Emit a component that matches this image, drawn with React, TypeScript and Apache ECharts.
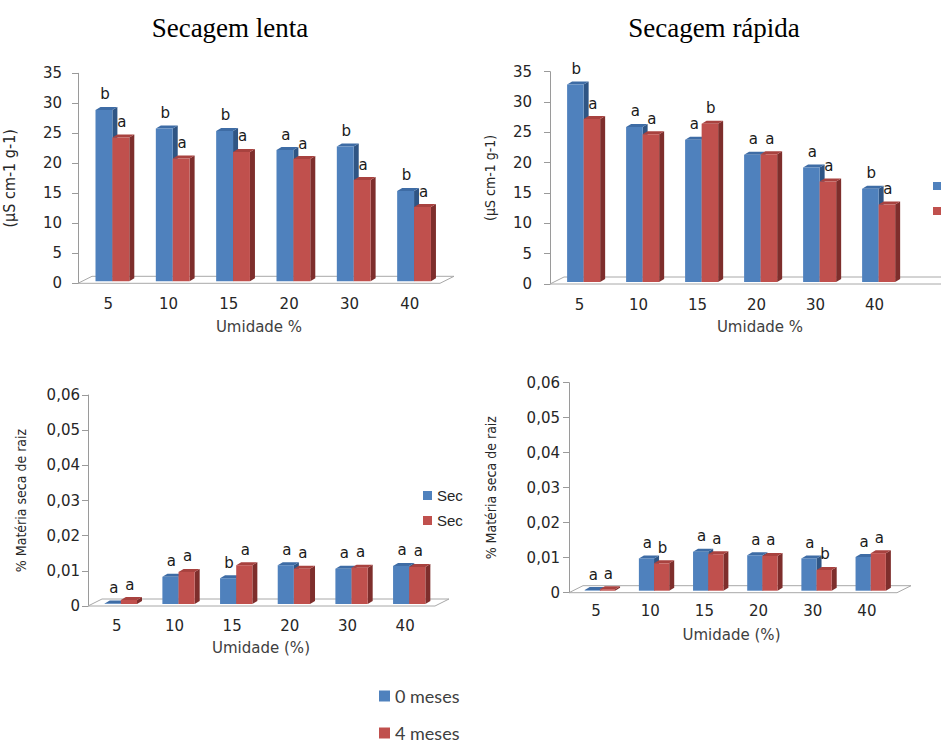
import React, { useEffect, useRef } from "react";
import * as echarts from "echarts";

// Umidade (%) classes shared by every panel
const categories = ["5", "10", "15", "20", "30", "40"];

// Condutividade elétrica (µS cm-1 g-1)
const lentaCond0 = [28.9, 25.8, 25.4, 22.2, 22.8, 15.4];
const lentaCond4 = [24.3, 20.8, 21.9, 20.7, 17.2, 12.7];
const rapidaCond0 = [32.9, 25.9, 23.8, 21.3, 19.2, 15.7];
const rapidaCond4 = [27.2, 24.7, 26.4, 21.4, 16.9, 13.1];

// % Matéria seca de raiz
const lentaRaiz0 = [0.0002, 0.0083, 0.0079, 0.0116, 0.0106, 0.0114];
const lentaRaiz4 = [0.0017, 0.0097, 0.0116, 0.0106, 0.0109, 0.0111];
const rapidaRaiz0 = [0.0003, 0.0098, 0.0117, 0.0107, 0.0098, 0.0102];
const rapidaRaiz4 = [0.001, 0.0084, 0.011, 0.0105, 0.0065, 0.0113];

// Letras de comparação de médias
const lentaCondLet0 = ["b", "b", "b", "a", "b", "b"];
const lentaCondLet4 = ["a", "a", "a", "a", "a", "a"];
const rapidaCondLet0 = ["b", "a", "a", "a", "a", "b"];
const rapidaCondLet4 = ["a", "a", "b", "a", "a", "a"];
const lentaRaizLet0 = ["a", "a", "b", "a", "a", "a"];
const lentaRaizLet4 = ["a", "a", "a", "a", "a", "a"];
const rapidaRaizLet0 = ["a", "a", "a", "a", "a", "a"];
const rapidaRaizLet4 = ["a", "b", "a", "a", "b", "a"];

const seriesNames = ["0 meses", "4 meses"];

const BLUE = { front: "#4F81BD", top: "#3E6CA5", side: "#2F5584" };
const RED = { front: "#C0504D", top: "#A8423F", side: "#7E2E2C" };

const TICK_FONT = "DejaVu Sans";
const NARROW_FONT = "'Liberation Sans Narrow', 'DejaVu Sans Condensed', 'Liberation Sans'";
const AXIS_GRAY = "#9a9a9a";

// bar depth (pseudo 3D)
const DX = 5;
const DY = 3;
// floor depth
const FDX = 14;
const FDY = 7;

function barRender(which: number, letters: string[]) {
  const col = which === 0 ? BLUE : RED;
  const a = which === 0 ? -0.21 : 0.07;
  const b = which === 0 ? 0.07 : 0.35;
  return (params: any, api: any) => {
    const i = api.value(0);
    const v = api.value(1);
    const top = api.coord([i, v]);
    const base = api.coord([i, 0]);
    const band = api.size([1, 0])[0];
    const c = top[0];
    const x0 = c + a * band;
    const x1 = c + b * band;
    const yB = base[1] - 2;
    const yT = Math.min(top[1], yB - 0.6);
    return {
      type: "group",
      children: [
        {
          type: "polygon",
          shape: { points: [[x1, yT], [x1 + DX, yT - DY], [x1 + DX, yB - DY], [x1, yB]] },
          style: { fill: col.side },
        },
        {
          type: "polygon",
          shape: { points: [[x0, yT], [x0 + DX, yT - DY], [x1 + DX, yT - DY], [x1, yT]] },
          style: { fill: col.top },
        },
        {
          type: "rect",
          shape: { x: x0, y: yT, width: x1 - x0, height: yB - yT },
          style: { fill: col.front },
        },
        {
          type: "text",
          x: (x0 + x1) / 2 + 1,
          y: yT - 8,
          style: {
            text: letters[i],
            align: "center",
            verticalAlign: "bottom",
            fill: "#1a1a1a",
            font: `15px ${TICK_FONT}`,
          },
        },
      ],
    };
  };
}

function floorRender(extraRight: number) {
  return (params: any) => {
    const cs = params.coordSys;
    const xl = cs.x;
    const xr = cs.x + cs.width + extraRight;
    const y = cs.y + cs.height;
    return {
      type: "polygon",
      shape: { points: [[xl, y], [xr, y], [xr + FDX, y - FDY], [xl + FDX, y - FDY]] },
      style: { fill: "#ffffff", stroke: "#a8a8a8", lineWidth: 1 },
      silent: true,
    };
  };
}

const panels = [
  {
    grid: { left: 78, top: 73.3, width: 362, height: 210 },
    max: 35, interval: 5,
    v0: lentaCond0, v4: lentaCond4, l0: lentaCondLet0, l4: lentaCondLet4,
    yName: "(µS cm-1 g-1)", yNameGap: 61, yNameSize: 16,
    xName: "Umidade %", xNameGap: 36, xNameShift: 0,
    labelMargin: 16, xLabelMargin: 13, floorExtra: 0,
  },
  {
    grid: { left: 550, top: 71.7, width: 354, height: 212.3 },
    max: 35, interval: 5,
    v0: rapidaCond0, v4: rapidaCond4, l0: rapidaCondLet0, l4: rapidaCondLet4,
    yName: "(µS cm-1 g-1)", yNameGap: 53, yNameSize: 14,
    xName: "Umidade %", xNameGap: 35, xNameShift: 66,
    labelMargin: 18, xLabelMargin: 13, floorExtra: 60,
  },
  {
    grid: { left: 88, top: 395, width: 346, height: 211 },
    max: 0.06, interval: 0.01,
    v0: lentaRaiz0, v4: lentaRaiz4, l0: lentaRaizLet0, l4: lentaRaizLet4,
    yName: "% Matéria seca de raiz", yNameGap: 60, yNameSize: 14,
    xName: "Umidade (%)", xNameGap: 34, xNameShift: 0,
    labelMargin: 8, xLabelMargin: 12, floorExtra: 1,
  },
  {
    grid: { left: 569, top: 382.7, width: 325, height: 210 },
    max: 0.06, interval: 0.01,
    v0: rapidaRaiz0, v4: rapidaRaiz4, l0: rapidaRaizLet0, l4: rapidaRaizLet4,
    yName: "% Matéria seca de raiz", yNameGap: 71, yNameSize: 14,
    xName: "Umidade (%)", xNameGap: 35, xNameShift: 0,
    labelMargin: 9, xLabelMargin: 11, floorExtra: 3,
  },
];

function fmtTick(v: number, interval: number) {
  if (v === 0) return "0";
  if (interval < 1) return v.toFixed(2).replace(".", ",");
  return String(v);
}

export default function App() {
  const ref = useRef<HTMLDivElement>(null);

  useEffect(() => {
    document.body.style.margin = "0";
    if (!ref.current) return;
    const chart = echarts.init(ref.current, undefined, { renderer: "svg" });

    const grids: any[] = [];
    const xAxes: any[] = [];
    const yAxes: any[] = [];
    const series: any[] = [];

    panels.forEach((p, k) => {
      grids.push({ ...p.grid, containLabel: false });
      xAxes.push({
        type: "category",
        gridIndex: k,
        data: categories,
        axisLine: { show: false },
        axisTick: { show: false },
        axisLabel: { color: "#262626", fontSize: 15, fontFamily: TICK_FONT, margin: p.xLabelMargin },
        name: p.xName,
        nameLocation: "middle",
        nameGap: p.xNameGap,
        nameTextStyle: {
          color: "#404040",
          fontSize: 15,
          fontFamily: TICK_FONT,
          padding: [0, 0, 0, p.xNameShift],
        },
      });
      yAxes.push({
        type: "value",
        gridIndex: k,
        min: 0,
        max: p.max,
        interval: p.interval,
        splitLine: { show: false },
        axisLine: { show: true, lineStyle: { color: AXIS_GRAY, width: 1 } },
        axisTick: { show: true, length: 6, lineStyle: { color: AXIS_GRAY } },
        axisLabel: {
          color: "#262626",
          fontSize: 15,
          fontFamily: TICK_FONT,
          margin: p.labelMargin,
          formatter: (v: number) => fmtTick(v, p.interval),
        },
        name: p.yName,
        nameLocation: "middle",
        nameGap: p.yNameGap,
        nameTextStyle: { color: "#262626", fontSize: p.yNameSize, fontFamily: NARROW_FONT },
      });
      series.push({
        type: "custom",
        name: "floor",
        xAxisIndex: k,
        yAxisIndex: k,
        z: 1,
        silent: true,
        data: [[0, 0]],
        renderItem: floorRender(p.floorExtra),
      });
      series.push({
        type: "custom",
        name: seriesNames[0],
        xAxisIndex: k,
        yAxisIndex: k,
        z: 2,
        itemStyle: { color: BLUE.front },
        encode: { x: 0, y: 1 },
        data: p.v0.map((v, i) => [i, v]),
        renderItem: barRender(0, p.l0),
      });
      series.push({
        type: "custom",
        name: seriesNames[1],
        xAxisIndex: k,
        yAxisIndex: k,
        z: 3,
        itemStyle: { color: RED.front },
        encode: { x: 0, y: 1 },
        data: p.v4.map((v, i) => [i, v]),
        renderItem: barRender(1, p.l4),
      });
    });

    const graphic: any[] = [
      {
        type: "text",
        x: 230,
        y: 28,
        style: {
          text: "Secagem lenta",
          align: "center",
          verticalAlign: "middle",
          font: "27px 'Liberation Serif'",
          fill: "#000",
        },
      },
      {
        type: "text",
        x: 714,
        y: 28,
        style: {
          text: "Secagem rápida",
          align: "center",
          verticalAlign: "middle",
          font: "27px 'Liberation Serif'",
          fill: "#000",
        },
      },
      // small in-plot legend of the lower left panel
      { type: "rect", x: 423, y: 491, shape: { width: 9, height: 9 }, style: { fill: BLUE.front } },
      {
        type: "text",
        x: 437,
        y: 495.5,
        style: { text: "Sec", verticalAlign: "middle", font: "15px 'Liberation Sans'", fill: "#262626" },
      },
      { type: "rect", x: 423, y: 516, shape: { width: 9, height: 9 }, style: { fill: RED.front } },
      {
        type: "text",
        x: 437,
        y: 520.5,
        style: { text: "Sec", verticalAlign: "middle", font: "15px 'Liberation Sans'", fill: "#262626" },
      },
      // legend keys of the upper right panel running past the page edge
      { type: "rect", x: 933, y: 182, shape: { width: 10, height: 8 }, style: { fill: BLUE.front } },
      { type: "rect", x: 933, y: 207, shape: { width: 10, height: 8 }, style: { fill: RED.front } },
    ];

    chart.setOption({
      animation: false,
      backgroundColor: "#ffffff",
      grid: grids,
      xAxis: xAxes,
      yAxis: yAxes,
      series,
      graphic,
      legend: {
        data: seriesNames,
        orient: "vertical",
        left: 379,
        top: 687,
        height: 120,
        padding: 0,
        icon: "rect",
        itemWidth: 11,
        itemHeight: 11,
        itemGap: 19,
        selectedMode: false,
        textStyle: { fontSize: 18, fontFamily: "Lato", color: "#404040" },
      },
    });

    return () => chart.dispose();
  }, []);

  return <div ref={ref} style={{ width: 941, height: 743 }} />;
}
